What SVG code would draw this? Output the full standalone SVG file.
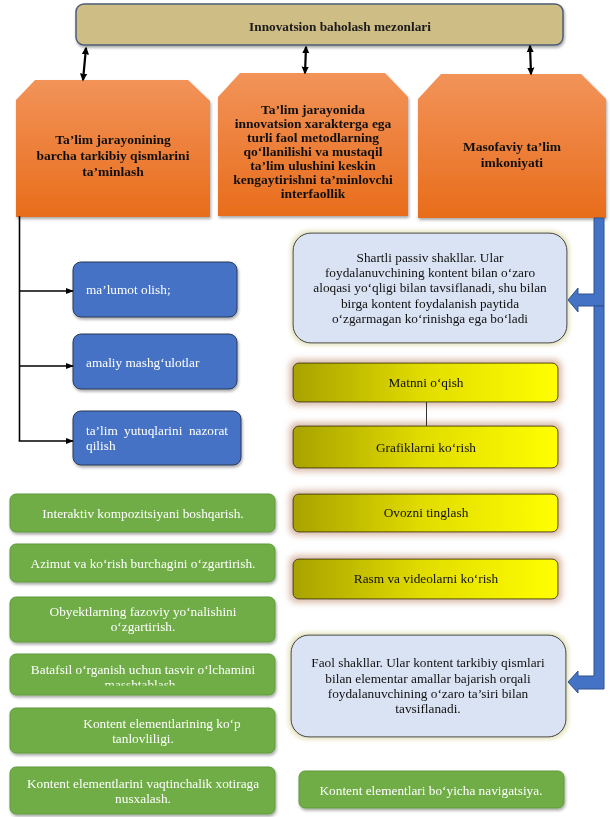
<svg xmlns="http://www.w3.org/2000/svg" width="610" height="817" viewBox="0 0 610 817">
<defs>
  <linearGradient id="gOrange" x1="0" y1="0" x2="0" y2="1">
    <stop offset="0" stop-color="#F29359"/>
    <stop offset="1" stop-color="#E86D1B"/>
  </linearGradient>
  <linearGradient id="gYellow" x1="0" y1="0" x2="1" y2="0">
    <stop offset="0" stop-color="#A8A200"/>
    <stop offset="0.5" stop-color="#E2DD00"/>
    <stop offset="1" stop-color="#FFFF00"/>
  </linearGradient>
  <filter id="shadow" x="-10%" y="-20%" width="120%" height="150%">
    <feGaussianBlur in="SourceAlpha" stdDeviation="1.5"/>
    <feOffset dx="1" dy="2" result="b"/>
    <feComponentTransfer><feFuncA type="linear" slope="0.35"/></feComponentTransfer>
    <feMerge><feMergeNode/><feMergeNode in="SourceGraphic"/></feMerge>
  </filter>
  <filter id="glowPink" x="-10%" y="-40%" width="120%" height="180%">
    <feMorphology in="SourceAlpha" operator="dilate" radius="3" result="d"/>
    <feGaussianBlur in="d" stdDeviation="3" result="b"/>
    <feFlood flood-color="#D8B8A4"/>
    <feComposite in2="b" operator="in"/>
    <feMerge><feMergeNode/><feMergeNode in="SourceGraphic"/></feMerge>
  </filter>
  <filter id="glowCream" x="-10%" y="-20%" width="120%" height="140%">
    <feMorphology in="SourceAlpha" operator="dilate" radius="2" result="d"/>
    <feGaussianBlur in="d" stdDeviation="2" result="b"/>
    <feFlood flood-color="#E4E2BE"/>
    <feComposite in2="b" operator="in"/>
    <feMerge><feMergeNode/><feMergeNode in="SourceGraphic"/></feMerge>
  </filter>
  <marker id="ah" viewBox="0 0 10 10" refX="8" refY="5" markerUnits="userSpaceOnUse" markerWidth="8" markerHeight="8" orient="auto-start-reverse">
    <path d="M0,0.5 L10,5 L0,9.5 Z" fill="#000"/>
  </marker>
  <marker id="ahs" viewBox="0 0 10 10" refX="9" refY="5" markerUnits="userSpaceOnUse" markerWidth="8" markerHeight="8" orient="auto">
    <path d="M0,1 L10,5 L0,9 Z" fill="#000"/>
  </marker>
  <clipPath id="clipG4"><rect x="10" y="654" width="266" height="31.5"/></clipPath>
</defs>
<style>
  text { font-family: "Liberation Serif", "Times New Roman", serif; }
  .top { font-size: 13.3px; font-weight: bold; fill: #1a1a1a; text-anchor: middle; }
  .or { font-size: 13.5px; font-weight: bold; fill: #111; text-anchor: middle; }
  .wt { font-size: 13.3px; fill: #fff; }
  .wc { font-size: 13.3px; fill: #fff; text-anchor: middle; }
  .bk { font-size: 13.3px; fill: #111; text-anchor: middle; }
  .orange { fill: url(#gOrange); }
  .blue { fill: #4472C4; stroke: #2C3A58; stroke-width: 1; }
  .green { fill: #70AD47; stroke: #5E9A3C; stroke-width: 1; }
  .yellow { fill: url(#gYellow); stroke: #3A3400; stroke-width: 1; }
  .pale { fill: #DAE3F3; stroke: #2A2A2A; stroke-width: 1; }
  .dbl { stroke: #000; stroke-width: 2.2; fill: none; }
  .conn { stroke: #000; stroke-width: 1.6; fill: none; }
  .barrow { fill: #4472C4; stroke: #2F528F; stroke-width: 1; }
</style>

<g id="top-node" filter="url(#shadow)">
  <rect x="76" y="4" width="487" height="41" rx="8" fill="#CFBD86" stroke="#4E5D75" stroke-width="1.5"/>
  <text class="top" x="340" y="31">Innovatsion baholash mezonlari</text>
</g>

<g id="orange-1" filter="url(#shadow)">
  <polygon class="orange" points="16,100 35,80 188,80 210,101 210,217 16,217"/>
  <text class="or" x="113" y="144">Ta’lim jarayonining</text>
  <text class="or" x="113" y="160">barcha tarkibiy qismlarini</text>
  <text class="or" x="113" y="176">ta’minlash</text>
</g>

<g id="orange-2" filter="url(#shadow)">
  <polygon class="orange" points="218,97 240,73 385,73 408,97 408,216 218,216"/>
  <text class="or" x="313" y="114">Ta’lim jarayonida</text>
  <text class="or" x="313" y="128">innovatsion xarakterga ega</text>
  <text class="or" x="313" y="142">turli faol metodlarning</text>
  <text class="or" x="313" y="156">qo‘llanilishi va mustaqil</text>
  <text class="or" x="313" y="170">ta’lim ulushini keskin</text>
  <text class="or" x="313" y="184">kengaytirishni ta’minlovchi</text>
  <text class="or" x="313" y="198">interfaollik</text>
</g>

<g id="orange-3" filter="url(#shadow)">
  <polygon class="orange" points="418,99 441,74 581,74 606,99 606,218 418,218"/>
  <text class="or" x="512" y="151">Masofaviy ta’lim</text>
  <text class="or" x="512" y="167">imkoniyati</text>
</g>

<g id="blue-1" filter="url(#shadow)">
  <rect class="blue" x="73" y="262" width="164" height="55" rx="8"/>
  <text class="wt" x="86" y="294">ma’lumot olish;</text>
</g>
<g id="blue-2" filter="url(#shadow)">
  <rect class="blue" x="73" y="334" width="164" height="55" rx="8"/>
  <text class="wt" x="86" y="367">amaliy mashg‘ulotlar</text>
</g>
<g id="blue-3" filter="url(#shadow)">
  <rect class="blue" x="73" y="411" width="168" height="54" rx="8"/>
  <text class="wt" y="435"><tspan x="86">ta’lim</tspan><tspan x="124">yutuqlarini</tspan><tspan x="228" text-anchor="end">nazorat</tspan></text>
  <text class="wt" x="86" y="450">qilish</text>
</g>

<g id="passive" filter="url(#glowCream)">
  <rect class="pale" x="293" y="233" width="274" height="110" rx="18"/>
  <text class="bk" x="430" y="262">Shartli passiv shakllar. Ular</text>
  <text class="bk" x="430" y="277">foydalanuvchining kontent bilan o‘zaro</text>
  <text class="bk" x="430" y="292">aloqasi yo‘qligi bilan tavsiflanadi, shu bilan</text>
  <text class="bk" x="430" y="308">birga kontent foydalanish paytida</text>
  <text class="bk" x="430" y="323">o‘zgarmagan ko‘rinishga ega bo‘ladi</text>
</g>

<g id="yellow-1" filter="url(#glowPink)">
  <rect class="yellow" x="293" y="363" width="265" height="39" rx="6"/>
  <text class="bk" x="426" y="387">Matnni o‘qish</text>
</g>
<g id="yellow-2" filter="url(#glowPink)">
  <rect class="yellow" x="293" y="426" width="265" height="42" rx="6"/>
  <text class="bk" x="426" y="452">Grafiklarni ko‘rish</text>
</g>
<g id="yellow-3" filter="url(#glowPink)">
  <rect class="yellow" x="293" y="494" width="265" height="38" rx="6"/>
  <text class="bk" x="426" y="517">Ovozni tinglash</text>
</g>
<g id="yellow-4" filter="url(#glowPink)">
  <rect class="yellow" x="293" y="559" width="265" height="40" rx="6"/>
  <text class="bk" x="426" y="583">Rasm va videolarni ko‘rish</text>
</g>

<g id="active" filter="url(#glowCream)">
  <rect class="pale" x="291" y="635" width="275" height="102" rx="18"/>
  <text class="bk" x="428" y="667">Faol shakllar. Ular kontent tarkibiy qismlari</text>
  <text class="bk" x="428" y="683">bilan elementar amallar bajarish orqali</text>
  <text class="bk" x="428" y="698">foydalanuvchining o‘zaro ta’siri bilan</text>
  <text class="bk" x="428" y="713">tavsiflanadi.</text>
</g>

<g id="green-r" filter="url(#shadow)">
  <rect class="green" x="299" y="771" width="265" height="37" rx="6"/>
  <text class="wc" x="431" y="795">Kontent elementlari bo‘yicha navigatsiya.</text>
</g>

<g id="green-1" filter="url(#shadow)">
  <rect class="green" x="10" y="494" width="265" height="38" rx="6"/>
  <text class="wc" x="143" y="518">Interaktiv kompozitsiyani boshqarish.</text>
</g>
<g id="green-2" filter="url(#shadow)">
  <rect class="green" x="10" y="544" width="265" height="38" rx="6"/>
  <text class="wc" x="143" y="568">Azimut va ko‘rish burchagini o‘zgartirish.</text>
</g>
<g id="green-3" filter="url(#shadow)">
  <rect class="green" x="10" y="597" width="265" height="45" rx="6"/>
  <text class="wc" x="143" y="616">Obyektlarning fazoviy yo‘nalishini</text>
  <text class="wc" x="143" y="631">o‘zgartirish.</text>
</g>
<g id="green-4" filter="url(#shadow)">
  <rect class="green" x="10" y="654" width="265" height="41" rx="6"/>
  <g clip-path="url(#clipG4)">
    <text class="wc" x="143" y="674">Batafsil o‘rganish uchun tasvir o‘lchamini</text>
    <text class="wc" x="140" y="689">masshtablash</text>
  </g>
</g>
<g id="green-5" filter="url(#shadow)">
  <rect class="green" x="10" y="708" width="265" height="45" rx="6"/>
  <text class="wc" x="162" y="728">Kontent elementlarining ko‘p</text>
  <text class="wc" x="143" y="743">tanlovliligi.</text>
</g>
<g id="green-6" filter="url(#shadow)">
  <rect class="green" x="10" y="767" width="265" height="47" rx="6"/>
  <text class="wc" x="143" y="788">Kontent elementlarini vaqtinchalik xotiraga</text>
  <text class="wc" x="143" y="803">nusxalash.</text>
</g>

<g id="connectors">
  <line class="dbl" x1="86" y1="48" x2="83" y2="80" marker-start="url(#ah)" marker-end="url(#ah)"/>
  <line class="dbl" x1="306" y1="47" x2="305" y2="73" marker-start="url(#ah)" marker-end="url(#ah)"/>
  <line class="dbl" x1="530" y1="46" x2="531" y2="74" marker-start="url(#ah)" marker-end="url(#ah)"/>
  <path class="conn" d="M19.5,216 V441"/>
  <line class="conn" x1="19.5" y1="291" x2="73" y2="291" marker-end="url(#ahs)"/>
  <line class="conn" x1="19.5" y1="366" x2="73" y2="366" marker-end="url(#ahs)"/>
  <line class="conn" x1="18.7" y1="441" x2="73" y2="441" marker-end="url(#ahs)"/>
  <line stroke="#333" stroke-width="1" x1="426.5" y1="402" x2="426.5" y2="426"/>
  <path class="barrow" d="M594,218 H604 V306 H578 V312 L568,300 L578,288 V294 H594 Z"/>
  <path class="barrow" d="M594,306 H604 V689 H578 V693 L568,682 L578,671 V676 H594 Z"/>
</g>
</svg>
